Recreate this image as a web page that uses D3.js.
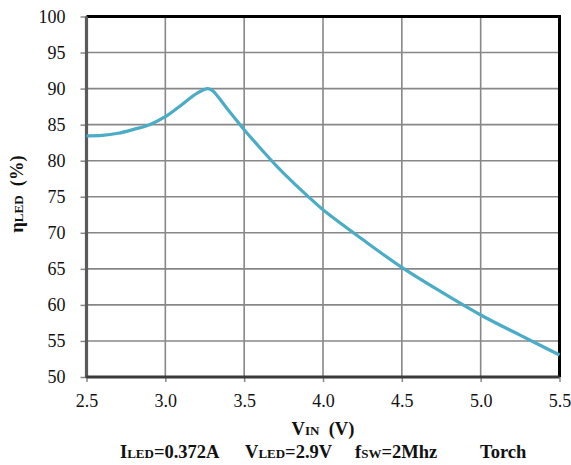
<!DOCTYPE html>
<html><head><meta charset="utf-8">
<script src="https://cdn.jsdelivr.net/npm/d3@7"></script>
<style>body{margin:0;background:#fff}svg{display:block}</style>
</head><body><svg id="c" width="571" height="465"></svg>
<script>
const vin = [2.5,2.6,2.7,2.8,2.9,3.0,3.1,3.2,3.27,3.3,3.4,3.5,3.6,3.7,3.8,3.9,4.0,4.25,4.5,4.75,5.0,5.25,5.5];
const eff = [83.45,83.5,83.8,84.35,85.0,86.1,87.7,89.35,90.0,89.7,87.0,84.3,81.8,79.4,77.2,75.15,73.2,69.1,65.2,61.8,58.6,55.8,53.05];
const xTicks = [2.5,3.0,3.5,4.0,4.5,5.0,5.5];
const yTicks = [50,55,60,65,70,75,80,85,90,95,100];

const svg = d3.select("#c");
const font = "Liberation Serif";
const x = d3.scaleLinear().domain([2.5,5.5]).range([86.5,559.5]);
const y = d3.scaleLinear().domain([50,100]).range([377,16.5]);

// grid
svg.append("g").selectAll("line").data(yTicks).join("line")
  .attr("x1",x(2.5)).attr("x2",x(5.5)).attr("y1",d=>y(d)).attr("y2",d=>y(d))
  .attr("stroke","#878787").attr("stroke-width",1.6);
svg.append("g").selectAll("line").data(xTicks).join("line")
  .attr("y1",y(50)).attr("y2",y(100)).attr("x1",d=>x(d)).attr("x2",d=>x(d))
  .attr("stroke","#878787").attr("stroke-width",1.6);

// axes with D3
const ya = svg.append("g").attr("transform",`translate(${x(2.5)},0)`)
  .call(d3.axisLeft(y).tickValues(yTicks).tickSize(6).tickPadding(15).tickFormat(d3.format("d")));
const xa = svg.append("g").attr("transform",`translate(0,${y(50)})`)
  .call(d3.axisBottom(x).tickValues(xTicks).tickSize(5).tickPadding(12).tickFormat(d3.format(".1f")));
[ya,xa].forEach(g=>{
  g.select(".domain").remove();
  g.selectAll(".tick line").attr("stroke","#888").attr("stroke-width",1.5);
  g.selectAll(".tick text").attr("font-family",font).attr("font-size",18).attr("fill","#111");
});

// frame: top/right black, left/bottom dark gray
svg.append("line").attr("x1",x(2.5)).attr("x2",x(5.5)+1.5).attr("y1",y(100)).attr("y2",y(100)).attr("stroke","#000").attr("stroke-width",3);
svg.append("line").attr("x1",x(5.5)).attr("x2",x(5.5)).attr("y1",y(100)).attr("y2",y(50)).attr("stroke","#000").attr("stroke-width",3);
svg.append("line").attr("x1",x(2.5)).attr("x2",x(2.5)).attr("y1",y(100)).attr("y2",y(50)+1).attr("stroke","#5a5a5a").attr("stroke-width",3.2);
svg.append("line").attr("x1",x(2.5)).attr("x2",x(5.5)).attr("y1",y(50)).attr("y2",y(50)).attr("stroke","#3a3a3a").attr("stroke-width",3);

// curve
const pts = vin.map((v,i)=>[v,eff[i]]);
svg.append("path").datum(pts)
  .attr("d",d3.line().x(d=>x(d[0])).y(d=>y(d[1])).curve(d3.curveCatmullRom.alpha(0.5)))
  .attr("fill","none").attr("stroke","#4bacc6").attr("stroke-width",3.2).attr("stroke-linejoin","round");

// y title
const yt = svg.append("text").attr("transform","translate(23,194) rotate(-90)")
  .attr("text-anchor","middle").attr("font-family",font).attr("font-weight","bold").attr("font-size",18.5).attr("fill","#111");
yt.append("tspan").text("η");
yt.append("tspan").attr("font-size",13).text("LED");
yt.append("tspan").text("\u00a0\u00a0(%)");

// x title
const xt = svg.append("text").attr("x",323).attr("y",435).attr("text-anchor","middle")
  .attr("font-family",font).attr("font-weight","bold").attr("font-size",18.5).attr("fill","#111");
xt.append("tspan").text("V");
xt.append("tspan").attr("font-size",13).text("IN");
xt.append("tspan").text("\u00a0\u00a0(V)");

// caption
const cap = [
  {x:120, a:"I", s:"LED", b:"=0.372A"},
  {x:245, a:"V", s:"LED", b:"=2.9V"},
  {x:355, a:"f", s:"SW", b:"=2Mhz"},
  {x:480, a:"Torch", s:"", b:""}
];
cap.forEach(c=>{
  const t = svg.append("text").attr("x",c.x).attr("y",458).attr("font-family",font)
    .attr("font-weight","bold").attr("font-size",18.5).attr("fill","#111");
  t.append("tspan").text(c.a);
  if(c.s) t.append("tspan").attr("font-size",13).text(c.s);
  if(c.b) t.append("tspan").text(c.b);
});
</script></body></html>
